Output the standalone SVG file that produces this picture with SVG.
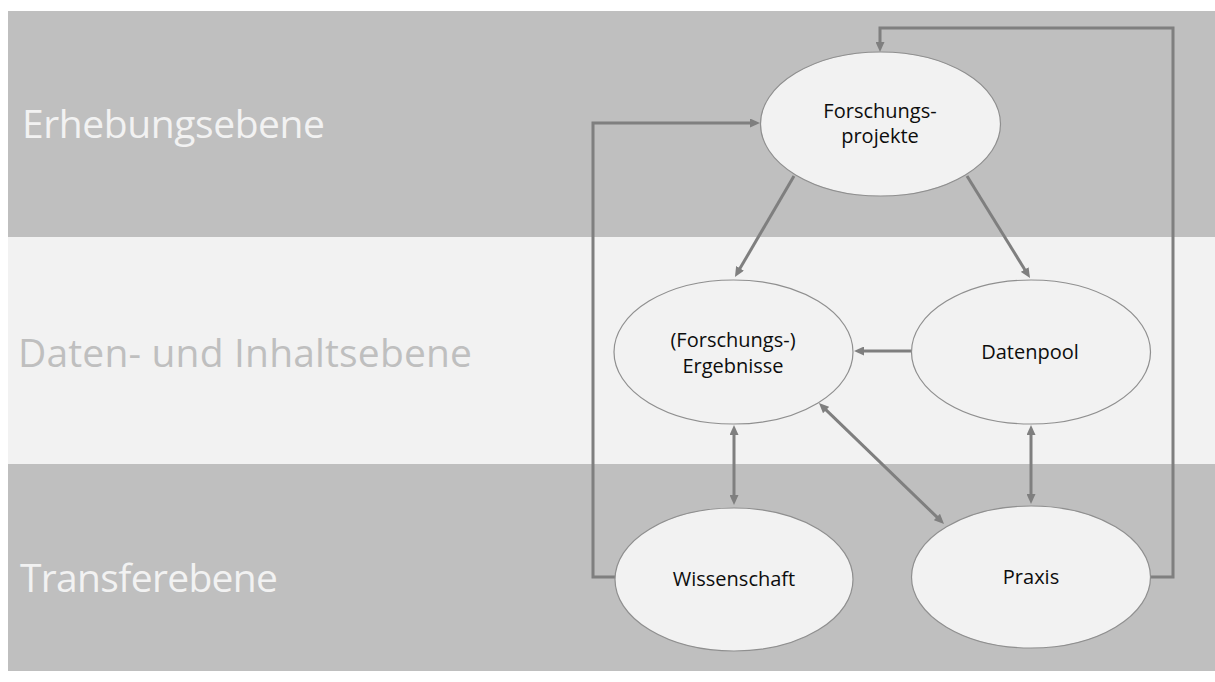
<svg xmlns="http://www.w3.org/2000/svg" width="1215" height="682" viewBox="0 0 1215 682">
<defs>
<marker id="ah" viewBox="0 0 10 9" markerUnits="userSpaceOnUse" markerWidth="10" markerHeight="9" refX="2" refY="4.5" orient="auto-start-reverse">
<path d="M0,0 L10,4.5 L0,9 z" fill="#7f7f7f"/>
</marker>
</defs>
<style>
.band-dark{fill:#bfbfbf}
.band-light{fill:#f2f2f2}
.lvl{font-family:"Open Sans","Liberation Sans",sans-serif;font-size:39px}
.lvl-w{fill:#f2f2f2}
.lvl-g{fill:#bfbfbf}
.node ellipse{fill:#f2f2f2;stroke:#8f8f8f;stroke-width:1.2}
.node text{font-family:"Open Sans","Liberation Sans",sans-serif;font-size:20px;fill:#0d0d0d;text-anchor:middle}
.con{fill:none;stroke:#7f7f7f;stroke-width:3}
.one{marker-end:url(#ah)}
.two{marker-start:url(#ah);marker-end:url(#ah)}
</style>
<rect width="1215" height="682" fill="#ffffff"/>
<g id="bands">
<rect class="band-dark" x="8" y="11" width="1207" height="226"/>
<rect class="band-light" x="8" y="237" width="1207" height="227"/>
<rect class="band-dark" x="8" y="464" width="1207" height="207"/>
<text class="lvl lvl-w" x="22" y="138" textLength="303">Erhebungsebene</text>
<text class="lvl lvl-g" x="18" y="367" textLength="454">Daten- und Inhaltsebene</text>
<text class="lvl lvl-w" x="20" y="592" textLength="258">Transferebene</text>
</g>
<g id="connectors">
<path class="con one" d="M794,176 L739,270.1"/>
<path class="con one" d="M967,176 L1025.8,271.2"/>
<path class="con one" d="M911,351 L862,351"/>
<path class="con two" d="M734,433 L734,497"/>
<path class="con two" d="M1031,433 L1031,496"/>
<path class="con two" d="M824.7,408.6 L938.3,518.4"/>
<path class="con one" d="M615,577 L593,577 L593,123 L752,123"/>
<path class="con one" d="M1151,577 L1173,577 L1173,28 L880,28 L880,44"/>
</g>
<g id="forschungsprojekte" class="node">
<ellipse cx="880.5" cy="124" rx="120" ry="72"/>
<text x="880" y="118">Forschungs-</text>
<text x="880" y="143">projekte</text>
</g>
<g id="ergebnisse" class="node">
<ellipse cx="733.5" cy="352" rx="119.5" ry="72"/>
<text x="733" y="347">(Forschungs-)</text>
<text x="733" y="373">Ergebnisse</text>
</g>
<g id="datenpool" class="node">
<ellipse cx="1031" cy="352" rx="119.5" ry="72"/>
<text x="1030" y="359">Datenpool</text>
</g>
<g id="wissenschaft" class="node">
<ellipse cx="734" cy="579.5" rx="119" ry="71.5"/>
<text x="734" y="586">Wissenschaft</text>
</g>
<g id="praxis" class="node">
<ellipse cx="1031" cy="577" rx="119.5" ry="71"/>
<text x="1031" y="584">Praxis</text>
</g>
</svg>
